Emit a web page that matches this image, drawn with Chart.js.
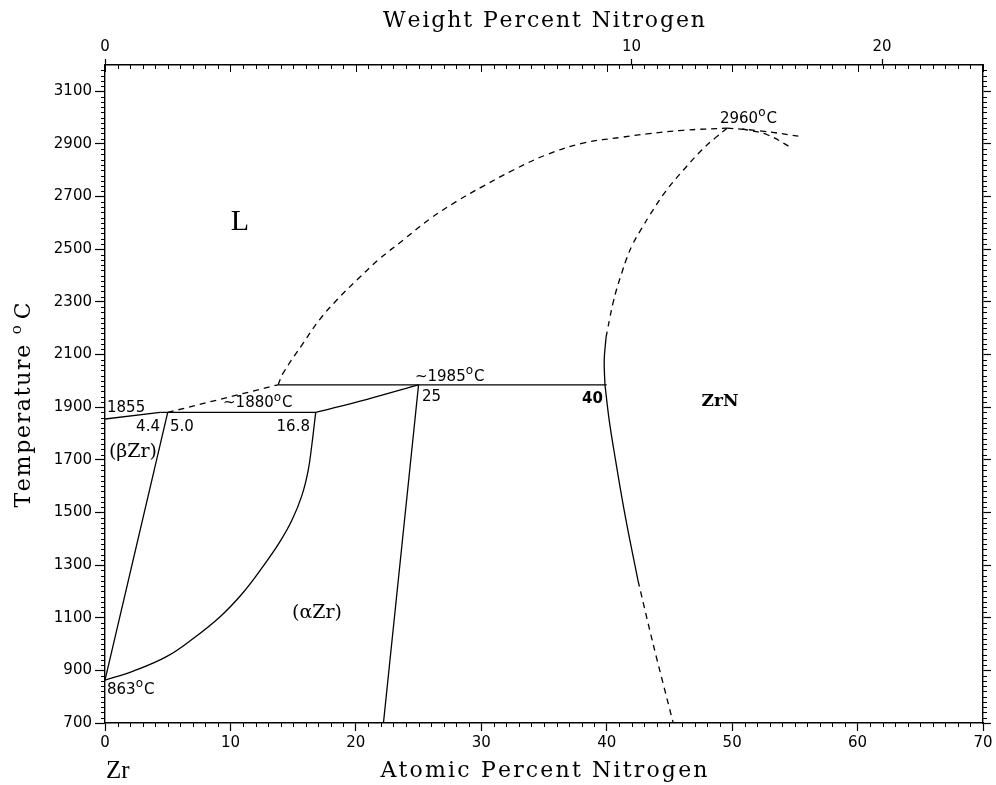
<!DOCTYPE html>
<html>
<head>
<meta charset="utf-8">
<title>Zr-N phase diagram</title>
<style>
  html, body { margin: 0; padding: 0; background: #fff; }
  #wrap { width: 996px; height: 785px; position: relative; }
</style>
<script src="https://cdn.jsdelivr.net/npm/chart.js"></script>
</head>
<body>
<div id="wrap"><canvas id="chart"></canvas></div>
<script>
// axis ticks
const atomicTicks = [0, 10, 20, 30, 40, 50, 60, 70];
const weightTicks = [0, 10, 20];
const tempTicks = [700, 900, 1100, 1300, 1500, 1700, 1900, 2100, 2300, 2500, 2700, 2900, 3100];

// phase boundaries, [at.% N, degC]
const solidusBeta = [[0, 1855], [4.4, 1880]];
const peritectic1880 = [[4.4, 1880], [16.8, 1880]];
const peritectic1985 = [[13.8, 1985], [40, 1985]];
const liquidusBeta = [[5.0, 1880], [13.8, 1985]];
const liquidus = [[13.8, 1985], [14.2, 2029], [15.8, 2143], [17.1, 2232], [18.5, 2308], [20.1, 2384],
  [21.8, 2460], [23.8, 2536], [25.9, 2615], [28.0, 2681], [30.2, 2741], [32.6, 2802], [35.2, 2859],
  [38.1, 2903], [41.3, 2926], [43.2, 2938], [46.1, 2952], [49.6, 2960]];
const liquidusRight = [[49.6, 2960], [52.2, 2950], [55.7, 2927]];
const liquidusRight2 = [[50.8, 2957], [52.8, 2935], [54.6, 2889]];
const zrnLiquidus = [[49.6, 2960], [48.7, 2925], [47.6, 2878], [46.1, 2800], [44.7, 2720], [43.45, 2631],
  [42.8, 2580], [42.1, 2522], [41.6, 2466], [41.2, 2410], [40.8, 2350], [40.5, 2295], [40.25, 2240],
  [40.05, 2190], [39.95, 2166]];
const zrnBoundaryTop = [[39.95, 2166], [39.8, 2077], [39.86, 1985]];
const zrnBoundary = [[39.86, 1985], [40.2, 1850], [40.7, 1700], [41.5, 1480], [42.5, 1240]];
const zrnBoundaryLow = [[42.5, 1240], [43.7, 1000], [45.3, 700]];
const betaTransus = [[5.0, 1880], [0, 863]];
const alphaBoundary = [[16.8, 1880], [16.7, 1840], [16.5, 1760], [16.2, 1660], [15.7, 1565], [14.9, 1470],
  [13.9, 1385], [12.6, 1295], [11.0, 1195], [9.2, 1105], [7.0, 1020], [4.9, 952], [2.3, 898], [0, 863]];
const alphaSolidus = [[16.8, 1880], [20.9, 1930], [25, 1985]];
const alphaZrN = [[25, 1985], [22.2, 700]];

// weight % N -> atomic % N (Zr 91.224, N 14.007)
function wtToAt(w) {
  const n = w / 14.007, z = (100 - w) / 91.224;
  return 100 * n / (n + z);
}

function line(points, dashed, tension) {
  return {
    data: points.map(p => ({ x: p[0], y: p[1] })),
    showLine: true,
    pointRadius: 0,
    borderColor: '#000',
    borderWidth: 1.3,
    borderDash: dashed ? [6, 5] : [],
    tension: tension || 0,
    xAxisID: 'x',
    yAxisID: 'y'
  };
}

const datasets = [
  line(solidusBeta), line(peritectic1880), line(peritectic1985),
  line(liquidusBeta, true), line(liquidus, true, 0.4),
  line(liquidusRight, true, 0.4), line(liquidusRight2, true, 0.4),
  line(zrnLiquidus, true, 0.4), line(zrnBoundaryTop, false, 0.4),
  line(zrnBoundary, false, 0.4), line(zrnBoundaryLow, true, 0.3),
  line(betaTransus), line(alphaBoundary, false, 0.4), line(alphaSolidus, false, 0.4), line(alphaZrN)
];

// draw text, a degree sign becomes a raised small "o"
function drawText(ctx, text, px, py, font, align) {
  const size = parseInt(font.match(/(\d+)px/)[1], 10);
  const supFont = font.replace(/\d+px/, Math.round(size * 0.8) + 'px');
  const parts = text.split('°');
  ctx.font = font;
  let total = ctx.measureText(parts[0]).width;
  if (parts.length > 1) {
    ctx.font = supFont; total += ctx.measureText('o').width + 1;
    ctx.font = font; total += ctx.measureText(parts[1]).width;
  }
  let cx = align === 'center' ? px - total / 2 : align === 'right' ? px - total : px;
  ctx.textAlign = 'left';
  ctx.font = font;
  ctx.fillText(parts[0], cx, py);
  cx += ctx.measureText(parts[0]).width;
  if (parts.length > 1) {
    ctx.font = supFont;
    ctx.fillText('o', cx, py - size * 0.4);
    cx += ctx.measureText('o').width + 1;
    ctx.font = font;
    ctx.fillText(parts[1], cx, py);
  }
}

// spread letters so the text fills a given width
function drawSpaced(ctx, text, cx, baseY, width, font) {
  ctx.font = font;
  const chars = text.split('');
  const widths = chars.map(c => ctx.measureText(c === '°' ? 'o' : c).width);
  const natural = widths.reduce((a, b) => a + b, 0);
  const gap = (width - natural) / (chars.length - 1);
  let x = cx - width / 2;
  ctx.textAlign = 'left';
  ctx.textBaseline = 'alphabetic';
  chars.forEach((c, i) => {
    if (c === '°') {
      ctx.font = font.replace(/\d+px/, '15px');
      ctx.fillText('o', x, baseY - 9);
      ctx.font = font;
    } else {
      ctx.fillText(c, x, baseY);
    }
    x += widths[i] + gap;
  });
}

const labels = [
  { text: 'L', x: 10.76, y: 2604, font: '30px "Liberation Serif"', align: 'center' },
  { text: '2960°C', x: 49.03, y: 2996, font: '15px "DejaVu Sans"', align: 'left' },
  { text: '~1985°C', x: 24.71, y: 2015, font: '15px "DejaVu Sans"', align: 'left' },
  { text: '~1880°C', x: 9.41, y: 1914, font: '15px "DejaVu Sans"', align: 'left' },
  { text: '1855', x: 0.16, y: 1897, font: '15px "DejaVu Sans"', align: 'left' },
  { text: '4.4', x: 4.38, y: 1825, font: '15px "DejaVu Sans"', align: 'right' },
  { text: '5.0', x: 5.18, y: 1825, font: '15px "DejaVu Sans"', align: 'left' },
  { text: '16.8', x: 16.34, y: 1825, font: '15px "DejaVu Sans"', align: 'right' },
  { text: '25', x: 25.27, y: 1939, font: '15px "DejaVu Sans"', align: 'left' },
  { text: '40', x: 39.7, y: 1931, font: 'bold 15px "DejaVu Sans"', align: 'right' },
  { text: 'ZrN', x: 49.03, y: 1920, font: 'bold 17px "DejaVu Serif"', align: 'center' },
  { text: '(βZr)', x: 2.23, y: 1730, font: '19px "DejaVu Serif"', align: 'center' },
  { text: '(αZr)', x: 16.9, y: 1118, font: '19px "DejaVu Serif"', align: 'center' },
  { text: '863°C', x: 0.16, y: 825, font: '15px "DejaVu Sans"', align: 'left' }
];

const overlay = {
  id: 'overlay',
  afterDraw(chart) {
    const ctx = chart.ctx;
    const xs = chart.scales.x, ys = chart.scales.y;
    const a = chart.chartArea;
    ctx.save();
    ctx.strokeStyle = '#000';
    ctx.lineWidth = 1;
    ctx.beginPath();
    for (let v = 0; v <= 70; v++) {
      const px = Math.round(xs.getPixelForValue(v)) + 0.5;
      const major = v % 10 === 0;
      ctx.moveTo(px, a.top);
      ctx.lineTo(px, a.top + (major ? 7 : 4));
      if (!major) {
        ctx.moveTo(px, a.bottom);
        ctx.lineTo(px, a.bottom + 4);
      }
    }
    for (let t = 720; t < 3200; t += 20) {
      if ((t - 700) % 200 === 0) continue;
      const py = Math.round(ys.getPixelForValue(t)) + 0.5;
      ctx.moveTo(a.left - 4, py); ctx.lineTo(a.left, py);
      ctx.moveTo(a.right, py); ctx.lineTo(a.right + 4, py);
    }
    ctx.stroke();

    ctx.fillStyle = '#000';
    ctx.textBaseline = 'middle';
    labels.forEach(l => {
      drawText(ctx, l.text, xs.getPixelForValue(l.x), ys.getPixelForValue(l.y), l.font, l.align);
    });

    const titleFont = '22px "DejaVu Serif"';
    drawSpaced(ctx, 'Weight Percent Nitrogen', 544, 27, 322, titleFont);
    drawSpaced(ctx, 'Atomic Percent Nitrogen', 544, 777, 327, titleFont);
    ctx.font = '25px "Liberation Serif"';
    ctx.textAlign = 'left';
    ctx.fillText('Zr', 106, 778);

    ctx.translate(30, 405);
    ctx.rotate(-Math.PI / 2);
    drawSpaced(ctx, 'Temperature °C', 0, 0, 205, titleFont);
    ctx.restore();
  }
};

const tickFont = { family: 'DejaVu Sans', size: 15 };
const gridOpts = len => ({ drawOnChartArea: false, color: '#000', tickColor: '#000', tickLength: len, tickWidth: 1.2 });
const borderOpts = { display: true, color: '#000', width: 1.4 };

new Chart(document.getElementById('chart'), {
  type: 'scatter',
  data: { datasets: datasets },
  options: {
    responsive: true,
    maintainAspectRatio: false,
    animation: false,
    layout: { padding: 0 },
    plugins: { legend: { display: false }, tooltip: { enabled: false } },
    scales: {
      x: {
        type: 'linear', position: 'bottom', min: 0, max: 70,
        afterBuildTicks: s => { s.ticks = atomicTicks.map(v => ({ value: v })); },
        ticks: { font: tickFont, color: '#000', padding: 3, maxRotation: 0, autoSkip: false,
          callback: v => String(v) },
        grid: gridOpts(8), border: borderOpts,
        afterFit: s => { s.height = 62; }
      },
      x2: {
        type: 'linear', position: 'top', min: 0, max: 70,
        afterBuildTicks: s => { s.ticks = weightTicks.map(w => ({ value: wtToAt(w) })); },
        ticks: { font: tickFont, color: '#000', padding: 3, maxRotation: 0, autoSkip: false,
          callback: (v, i) => String(weightTicks[i]) },
        grid: gridOpts(6), border: borderOpts,
        afterFit: s => { s.height = 65; }
      },
      y: {
        type: 'linear', position: 'left', min: 700, max: 3200,
        afterBuildTicks: s => { s.ticks = tempTicks.map(v => ({ value: v })); },
        ticks: { font: tickFont, color: '#000', padding: 3, autoSkip: false,
          callback: v => String(v) },
        grid: gridOpts(10), border: borderOpts,
        afterFit: s => { s.width = 105; }
      },
      y2: {
        type: 'linear', position: 'right', min: 700, max: 3200,
        afterBuildTicks: s => { s.ticks = tempTicks.map(v => ({ value: v })); },
        ticks: { display: false },
        grid: gridOpts(8), border: borderOpts,
        afterFit: s => { s.width = 13; }
      }
    }
  },
  plugins: [overlay]
});
</script>
</body>
</html>
